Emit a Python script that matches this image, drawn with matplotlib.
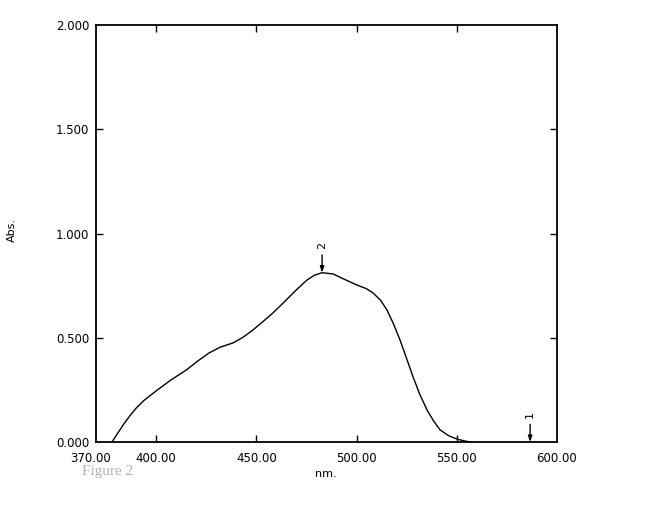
import numpy as np
import matplotlib.pyplot as plt
from matplotlib import transforms

# spectrum
wavelength = [378.0, 381.0, 384.0, 387.0, 390.0, 394.0, 400.0, 407.0, 415.0, 421.0,
              426.4, 432.0, 438.3, 443.0, 448.3, 453.0, 458.3, 464.8, 470.0, 475.3,
              479.0, 482.8, 488.3, 494.0, 500.2, 505.0, 508.2, 512.0, 515.2, 518.5,
              521.7, 525.0, 528.2, 531.5, 535.2, 538.5, 541.7, 546.0, 550.1, 554.0,
              557.0]
absorb = [0.0, 0.045, 0.088, 0.127, 0.162, 0.200, 0.245, 0.295, 0.345, 0.39,
          0.427, 0.455, 0.475, 0.50, 0.537, 0.575, 0.619, 0.68, 0.73, 0.777,
          0.80, 0.812, 0.806, 0.78, 0.753, 0.735, 0.715, 0.68, 0.633, 0.565,
          0.489, 0.40, 0.312, 0.23, 0.153, 0.10, 0.058, 0.03, 0.014, 0.005,
          0.0]

xticks = [370, 400, 450, 500, 550, 600]
yticks = [0.0, 0.5, 1.0, 1.5, 2.0]
peaks = [(482.8, 0.812, "2"), (586.6, 0.0, "1")]

plt.rcParams['font.family'] = ['DejaVu Sans']

fig = plt.figure(figsize=(6.49, 5.09), dpi=100)
ax = fig.add_axes([0.1479, 0.1316, 0.7103, 0.8193])

ax.plot(wavelength, absorb, color='black', lw=1.0)

ax.set_xlim(370, 600)
ax.set_ylim(0, 2.0)
ax.set_xticks(xticks)
ax.set_xticklabels(["%.2f" % t for t in xticks])
ax.set_yticks(yticks)
ax.set_yticklabels(["%.3f" % t for t in yticks])
ax.tick_params(direction='in', length=5, width=1.0, top=True, right=True,
               labelsize=8.5, color='black')
ax.tick_params(axis='x', pad=7)
ax.tick_params(axis='y', pad=5)
for s in ax.spines.values():
    s.set_linewidth(1.3)

# hide edge ticks like the original, and nudge the 370 label left
xt = ax.xaxis.get_major_ticks()
for t in (xt[0], xt[-1]):
    t.tick1line.set_visible(False)
    t.tick2line.set_visible(False)
yt = ax.yaxis.get_major_ticks()
for t in (yt[0], yt[-1]):
    t.tick1line.set_visible(False)
    t.tick2line.set_visible(False)
lab = ax.get_xticklabels()[0]
lab.set_transform(lab.get_transform() + transforms.ScaledTranslation(-4/72, 0, fig.dpi_scale_trans))

for x, y, name in peaks:
    ax.annotate("", xy=(x, y), xytext=(x, y + 0.085),
                arrowprops=dict(arrowstyle='-|>,head_length=0.35,head_width=0.12',
                                color='black', lw=1.0, shrinkA=0, shrinkB=0))
    ax.text(x, y + 0.13, name, rotation=90, ha='center', va='center', fontsize=8)

fig.text(326/649, 1 - 474/509, "nm.", ha='center', va='center', fontsize=8)
fig.text(12/649, 1 - 230/509, "Abs.", rotation=90, ha='center', va='center', fontsize=8)
fig.text(82/649, 1 - 472/509, "Figure 2", ha='left', va='center', fontsize=11,
         family='Liberation Serif', color='#b4b4b4')

fig.savefig("out.png", dpi=100)
